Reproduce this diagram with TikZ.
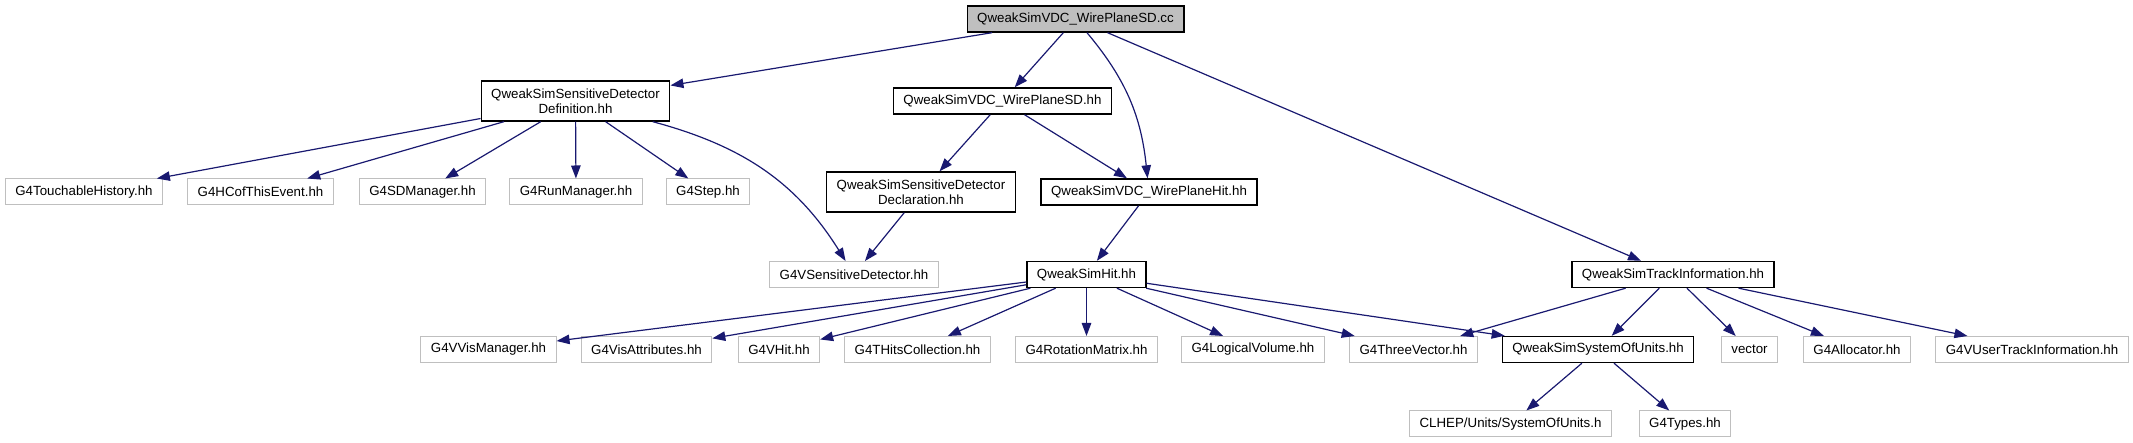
\documentclass[tikz,border=0pt]{standalone}
\usepackage{fontspec}
\setmainfont{Liberation Sans}
\usetikzlibrary{arrows.meta}
\definecolor{edgeblue}{HTML}{191970}
\definecolor{extgray}{HTML}{BFBFBF}
\begin{document}
\begin{tikzpicture}[x=1pt,y=1pt,
  every node/.style={font=\fontsize{13.3}{15}\selectfont,inner xsep=10pt,inner ysep=0pt,minimum height=26pt,align=center},
  main node/.style={rectangle,draw=black,line width=1.4pt,fill=white},
  root node/.style={main node,fill=extgray},
  ext node/.style={rectangle,draw=extgray,line width=1pt,fill=white},
  two lines/.style={minimum height=40pt}]
  \useasboundingbox (0,0) rectangle (2133,443);
  \node[root node] (cc) at (1075.5,424) {QweakSimVDC\_WirePlaneSD.cc};
  \node[main node,two lines] (def) at (575.5,342) {QweakSimSensitiveDetector\\Definition.hh};
  \node[main node] (vdcsd) at (1002.5,342) {QweakSimVDC\_WirePlaneSD.hh};
  \node[ext node] (touch) at (84,251) {G4TouchableHistory.hh};
  \node[ext node] (hcof) at (260.5,251) {G4HCofThisEvent.hh};
  \node[ext node] (sdman) at (422.5,251) {G4SDManager.hh};
  \node[ext node] (runman) at (576,251) {G4RunManager.hh};
  \node[ext node] (step) at (708,251) {G4Step.hh};
  \node[main node,two lines] (decl) at (921,251) {QweakSimSensitiveDetector\\Declaration.hh};
  \node[main node] (wphit) at (1149,251) {QweakSimVDC\_WirePlaneHit.hh};
  \node[ext node] (vsd) at (854,168.5) {G4VSensitiveDetector.hh};
  \node[main node] (simhit) at (1086.5,168.5) {QweakSimHit.hh};
  \node[main node] (track) at (1673,168.5) {QweakSimTrackInformation.hh};
  \node[ext node] (vis) at (488.5,93.5) {G4VVisManager.hh};
  \node[ext node] (visatt) at (646.5,93.5) {G4VisAttributes.hh};
  \node[ext node] (vhit) at (779,93.5) {G4VHit.hh};
  \node[ext node] (thits) at (917.5,93.5) {G4THitsCollection.hh};
  \node[ext node] (rot) at (1086.5,93.5) {G4RotationMatrix.hh};
  \node[ext node] (logvol) at (1253,93.5) {G4LogicalVolume.hh};
  \node[ext node] (threevec) at (1413.5,93.5) {G4ThreeVector.hh};
  \node[main node] (units) at (1598,93.5) {QweakSimSystemOfUnits.hh};
  \node[ext node] (vector) at (1749.5,93.5) {vector};
  \node[ext node] (alloc) at (1857,93.5) {G4Allocator.hh};
  \node[ext node] (vuser) at (2032,93.5) {G4VUserTrackInformation.hh};
  \node[ext node] (clhep) at (1510.5,19) {CLHEP/Units/SystemOfUnits.h};
  \node[ext node] (types) at (1685,19) {G4Types.hh};

  \path[line width=1.2pt, every edge/.style={draw=edgeblue,-{Triangle[length=13pt,width=9.5pt]}}]
    (cc) edge (def)
    (cc) edge (vdcsd)
    (cc) edge[out=-50,in=96] (wphit)
    (cc) edge (track)
    (def) edge (touch)
    (def) edge (hcof)
    (def) edge (sdman)
    (def) edge (runman)
    (def) edge (step)
    (def) edge[out=-15,in=122] (vsd)
    (vdcsd) edge (decl)
    (vdcsd) edge (wphit)
    (decl) edge (vsd)
    (wphit) edge (simhit)
    (simhit) edge (vis)
    (simhit) edge (visatt)
    (simhit) edge (vhit)
    (simhit) edge (thits)
    (simhit) edge (rot)
    (simhit) edge (logvol)
    (simhit) edge (threevec)
    (simhit) edge (units)
    (track) edge (threevec)
    (track) edge (units)
    (track) edge (vector)
    (track) edge (alloc)
    (track) edge (vuser)
    (units) edge (clhep)
    (units) edge (types);
\end{tikzpicture}
\end{document}
